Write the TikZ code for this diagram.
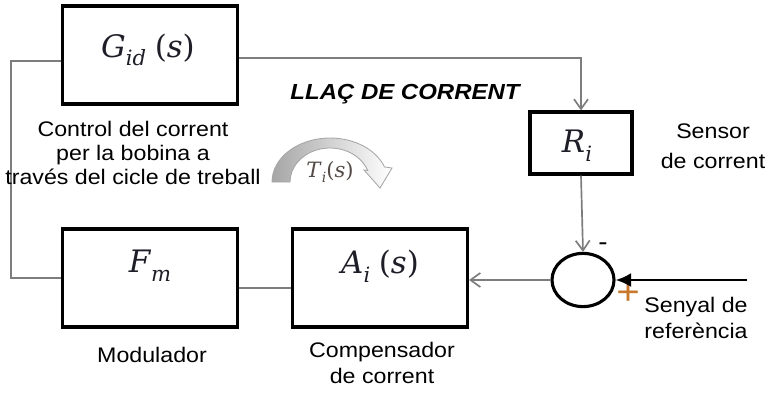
\RequirePackage{fix-cm}
\documentclass[tikz,border=0pt]{standalone}
\usepackage{fontspec}
\usepackage{tikz}
\usetikzlibrary{shapes,arrows,arrows.meta,positioning}
\newfontfamily\labelfont[FakeStretch=1.1]{Liberation Sans}
\newfontfamily\symfont{DejaVu Serif}
\newcommand{\lowsub}[1]{\raisebox{-0.28em}{\fontsize{15}{15}\selectfont\itshape #1}}
\definecolor{wiregray}{RGB}{125,125,125}
\definecolor{plusorange}{RGB}{200,120,45}
\definecolor{loopgray}{RGB}{85,75,70}
\definecolor{symblack}{RGB}{30,30,40}

\begin{document}
\begin{tikzpicture}[x=0.025cm, y=0.025cm,
    block/.style={rectangle, draw, line width=2.2pt, minimum width=4.375cm, minimum height=2.45cm},
    small block/.style={rectangle, draw, line width=2.2pt, minimum width=2.55cm, minimum height=1.55cm},
    junction/.style={ellipse, draw, line width=2.2pt, minimum width=1.55cm, minimum height=1.33cm, inner sep=0pt},
    wire/.style={draw=wiregray, line width=1.2pt},
    note/.style={font=\labelfont\fontsize{15}{17}\selectfont, align=center},
    symbol/.style={text=symblack, font=\symfont\fontsize{22}{26}\selectfont},
    >={Straight Barb[length=7pt,width=10pt]}
]
    \useasboundingbox (0,0) rectangle (773,-394);

    % blocks of the current loop
    \node[block] (gid) at (150,-55) {};
    \node[symbol] (gidtext) at (148,-50) {\textit{G}\lowsub{id}\;(\textit{s})};
    \node[small block] (ri) at (581,-143) {};
    \node[symbol] (ritext) at (577,-146) {\textit{R}\lowsub{i}};
    \node[block] (fm) at (150,-278) {};
    \node[symbol] (fmtext) at (150,-266) {\textit{F}\lowsub{m}};
    \node[block] (ai) at (380,-278) {};
    \node[symbol] (aitext) at (380,-266) {\textit{A}\lowsub{i}\;(\textit{s})};
    \node[junction] (sum) at (583,-280) {};
    \coordinate (refin) at (747,-280);

    % signs at the summing point
    \node[font=\labelfont\fontsize{18}{18}\selectfont] (minus) at (603,-247) {-};
    \node[text=plusorange, font=\labelfont\fontsize{26}{26}\selectfont] (plus) at (628,-294) {+};

    % connections
    \draw[wire, ->] ([yshift=-0.07cm]gid.east) -| (ri.north);
    \draw[wire, ->] (ri.south) -- (sum.north);
    \draw[wire, ->] (sum.west) -- (sum.west -| ai.east);
    \draw[wire] ([yshift=-0.25cm]fm.east) -- ([yshift=-0.25cm]ai.west);
    \draw[wire] ([yshift=-0.15cm]gid.west) -- ++(-50,0) |- (fm.west);
    \draw[line width=2pt, -{Latex[length=11pt,width=10pt]}] (refin) -- (sum.east);

    % loop arrow
    \draw[left color=gray!70, right color=white, draw=gray!70, line width=0.6pt]
        (272,-182) arc[start angle=180, end angle=20, x radius=58, y radius=44]
        -- (392,-168) -- (380,-188) -- (364,-170)
        -- (367.6,-170.4) arc[start angle=20, end angle=180, x radius=40, y radius=34] -- cycle;
    \node[text=loopgray, font=\symfont\fontsize{15}{15}\selectfont] (titext) at (330,-172) {\textit{T}\raisebox{-0.25em}{\fontsize{10}{10}\selectfont\itshape i}(\textit{s})};

    % labels
    \node[note, font=\labelfont\bfseries\itshape\fontsize{15.5}{17}\selectfont] (looplabel) at (405,-94) {LLAÇ DE CORRENT};
    \node[note] (gidnote) at (133,-153) {Control del corrent\\per la bobina a\\través del cicle de treball};
    \node[note, font=\labelfont\fontsize{15}{21}\selectfont] (rinote) at (713,-146) {Sensor\\de corrent};
    \node[note, font=\labelfont\fontsize{15}{19}\selectfont] (refnote) at (696,-318) {Senyal de\\referència};
    \node[note] (fmnote) at (152,-355) {Modulador};
    \node[note, font=\labelfont\fontsize{15}{19}\selectfont] (ainote) at (382,-363) {Compensador\\de corrent};
\end{tikzpicture}
\end{document}
